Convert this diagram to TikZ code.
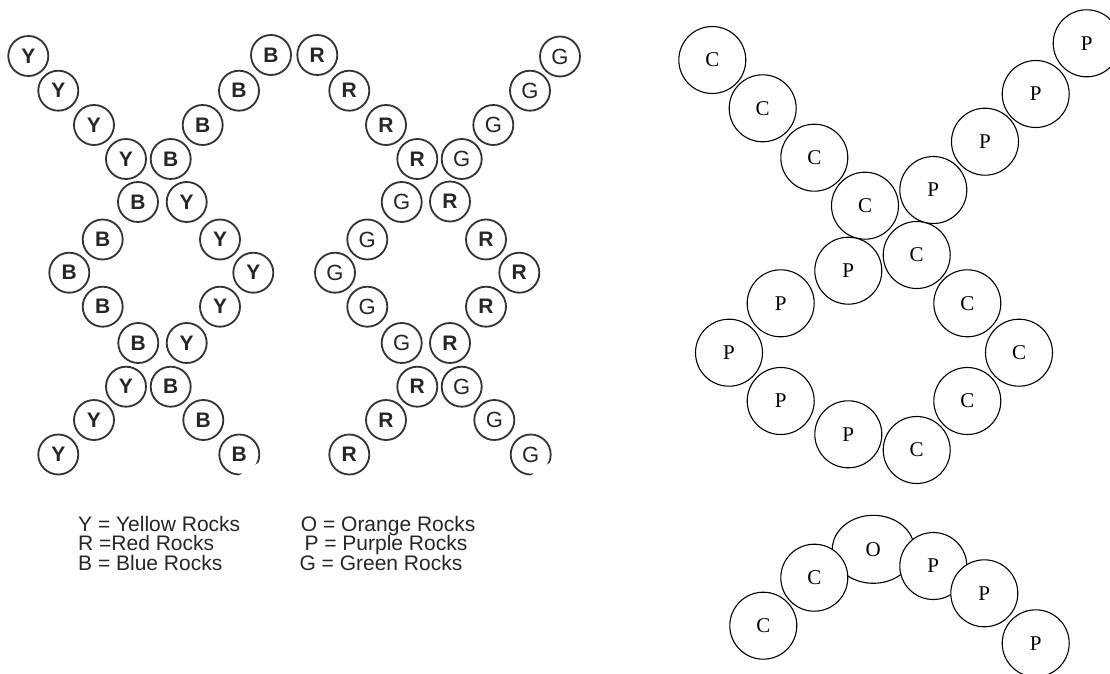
\documentclass[tikz,border=0pt]{standalone}
\usepackage{fontspec}
\setmainfont{Liberation Serif}
\newfontfamily\arialf{Liberation Sans}
\usetikzlibrary{shapes.geometric}
\begin{document}
\begin{tikzpicture}[x=1pt,y=-1pt,
  rockL/.style={circle, draw=black!80, line width=1.8pt, fill=white, minimum size=40pt, inner sep=0pt,
    text=black!85, font=\arialf\fontsize{21}{21}\selectfont\bfseries},
  rockLG/.style={rockL, font=\arialf\fontsize{22}{22}\selectfont},
  rockR/.style={circle, draw=black, line width=1.1pt, fill=white, minimum size=67pt, inner sep=0pt,
    font=\fontsize{21}{21}\selectfont},
  rockO/.style={ellipse, draw=black, line width=1.1pt, fill=white, minimum width=82pt, minimum height=68pt, inner sep=0pt,
    font=\fontsize{21}{21}\selectfont},
  legend/.style={anchor=base west, inner sep=0pt, text=black!85, font=\arialf\fontsize{21}{19}\selectfont},
  cutout/.style={fill=white, draw=none}]
\useasboundingbox (0,0) rectangle (1110,674);
% ---- left: Y / B strand pair
\foreach \x/\y [count=\i] in {28.3/56,58.3/90.7,94/125,126/159,186.7/202,220/239.5,253.3/272.7,220/306.7,186.7/343,126/386.7,94/420,58.3/454.5}
  \node[rockL] (Y\i) at (\x,\y) {Y};
\foreach \x/\y [count=\i] in {271/55,239/90.7,202.7/125,170.7/159,138/202,102.7/239.5,69.3/272.7,102.7/306.7,138.3/343,170.7/386.7,203.3/420,239.3/454.5}
  \node[rockL] (B\i) at (\x,\y) {B};
% ---- left: R / G strand pair
\foreach \x/\y [count=\i] in {317.3/55,349.3/90.7,386/125,417.3/159,450/201.5,486/239.5,519.3/272.7,486/306.7,450/343,417.3/386.7,386/420,349.3/454.5}
  \node[rockL] (R\i) at (\x,\y) {R};
\foreach \x/\y [count=\i] in {560/56.5,530/90.7,493.3/125,461.7/159,401.7/202,367.3/239.5,335/272.7,367.3/306.7,401.7/343,461.7/386.7,494.3/420,530.7/454.5}
  \node[rockLG] (G\i) at (\x,\y) {G};
% clipped corners of the last B and G
\fill[cutout] (235,478.3) -- (265,458.4) -- (266,483) -- (235,483) -- cycle;
\fill[cutout] (526.4,478.3) -- (556.4,458.4) -- (557.4,483) -- (526.4,483) -- cycle;
% ---- legend
\node[legend] (l1) at (78,531) {Y = Yellow Rocks};
\node[legend] (l2) at (78,550.7) {R =Red Rocks};
\node[legend] (l3) at (78,570.2) {B = Blue Rocks};
\node[legend] (l4) at (300.7,531) {O = Orange Rocks};
\node[legend] (l5) at (304.3,550.7) {P = Purple Rocks};
\node[legend] (l6) at (299.3,570.2) {G = Green Rocks};
% ---- right: C / P helix
\foreach \x/\y [count=\i] in {712.3/60,762.7/108.3,814.3/157.7,865/205.7,916.7/255,967.3/303.3,1019/352.7,967.3/401,916.7/450}
  \node[rockR] (C\i) at (\x,\y) {C};
\foreach \x/\y [count=\i] in {1086.7/43.3,1035.7/94,985/141.7,933.3/190,848.3/270.7,780.7/303.3,729/352.7,780.7/401,848.3/434.3}
  \node[rockR] (P\i) at (\x,\y) {P};
% ---- right bottom: arc with O
\node[rockO] (O1) at (873.3,549.3) {O};
\node[rockR] (c1) at (763.3,625.7) {C};
\node[rockR] (c2) at (814.3,577.7) {C};
\node[rockR] (p1) at (933.3,566) {P};
\node[rockR] (p2) at (984.3,593.3) {P};
\node[rockR] (p3) at (1035.7,643.3) {P};
\end{tikzpicture}
\end{document}
